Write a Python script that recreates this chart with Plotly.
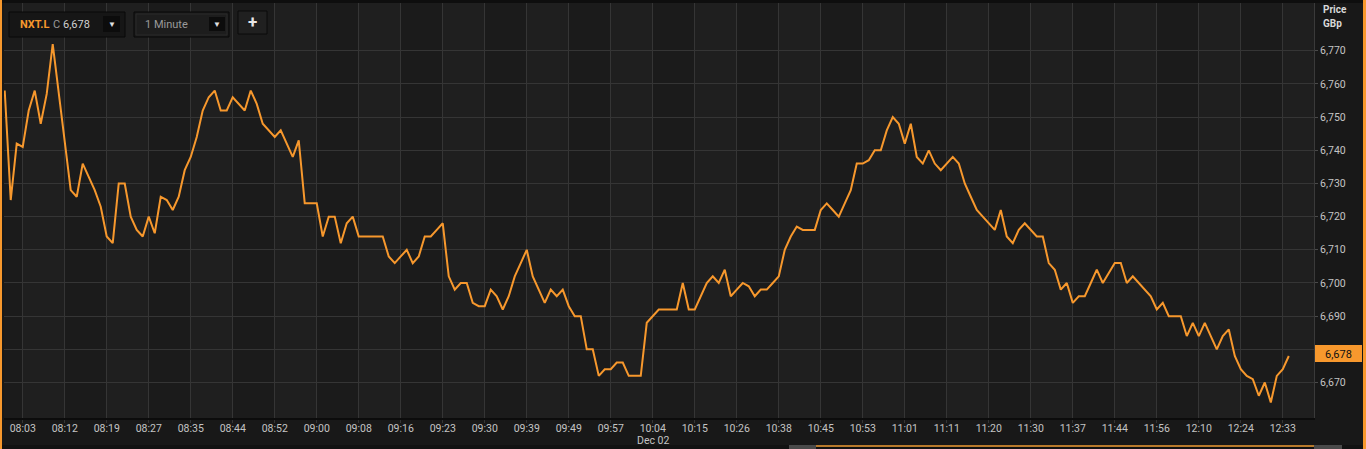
import plotly.graph_objects as go

# ---------------- data ----------------
tick_labels = ["08:03", "08:12", "08:19", "08:27", "08:35", "08:44", "08:52", "09:00",
               "09:08", "09:16", "09:23", "09:30", "09:39", "09:49", "09:57", "10:04",
               "10:15", "10:26", "10:38", "10:45", "10:53", "11:01", "11:11", "11:20",
               "11:30", "11:37", "11:44", "11:56", "12:10", "12:24", "12:33"]
date_label = "Dec 02"
date_label_at = "10:04"

prices = [
    6758, 6725, 6742, 6741, 6752, 6758, 6748, 6757, 6772, 6757,
    6742, 6728, 6726, 6736, 6732, 6728, 6723, 6714, 6712, 6730,
    6730, 6720, 6716, 6714, 6720, 6715, 6726, 6725, 6722, 6726,
    6734, 6738, 6744, 6752, 6756, 6758, 6752, 6752, 6756, 6754,
    6752, 6758, 6754, 6748, 6746, 6744, 6746, 6742, 6738, 6743,
    6724, 6724, 6724, 6714, 6720, 6720, 6712, 6718, 6720, 6714,
    6714, 6714, 6714, 6714, 6708, 6706, 6708, 6710, 6706, 6708,
    6714, 6714, 6716, 6718, 6702, 6698, 6700, 6700, 6694, 6693,
    6693, 6698, 6696, 6692, 6696, 6702, 6706, 6710, 6702, 6698,
    6694, 6698, 6696, 6698, 6693, 6690, 6690, 6680, 6680, 6672,
    6674, 6674, 6676, 6676, 6672, 6672, 6672, 6688, 6690, 6692,
    6692, 6692, 6692, 6700, 6692, 6692, 6696, 6700, 6702, 6700,
    6704, 6696, 6698, 6700, 6699, 6696, 6698, 6698, 6700, 6702,
    6710, 6714, 6717, 6716, 6716, 6716, 6722, 6724, 6722, 6720,
    6724, 6728, 6736, 6736, 6737, 6740, 6740, 6746, 6750, 6748,
    6742, 6748, 6738, 6736, 6740, 6736, 6734, 6736, 6738, 6736,
    6730, 6726, 6722, 6720, 6718, 6716, 6722, 6714, 6712, 6716,
    6718, 6716, 6714, 6714, 6706, 6704, 6698, 6700, 6694, 6696,
    6696, 6700, 6704, 6700, 6703, 6706, 6706, 6700, 6702, 6700,
    6698, 6696, 6692, 6694, 6690, 6690, 6690, 6684, 6688, 6684,
    6688, 6684, 6680, 6684, 6686, 6678, 6674, 6672, 6671, 6666,
    6670, 6664, 6672, 6674, 6678,
]
price_ticks = [6670, 6680, 6690, 6700, 6710, 6720, 6730, 6740, 6750, 6760, 6770]
symbol = "NXT.L"
last_price = prices[-1]
interval_label = "1 Minute"

# ---------------- geometry helpers (pixels -> paper) ----------------
W, H = 1366, 449
L, R, T, B = 4, 1314, 3, 418
def px(x):
    return (x - L) / (R - L)
def py(y):
    return (B - y) / (B - T)

ORANGE = "#f7982d"
idx = list(range(len(prices)))
tick_pos = [3 + 7 * k for k in range(len(tick_labels))]

fig = go.Figure()
fig.add_trace(go.Scatter(x=idx, y=prices, mode="lines",
                         line=dict(color=ORANGE, width=2), hoverinfo="skip",
                         showlegend=False))

shapes = []
# alternating column bands
for k in range(-1, len(tick_pos)):
    x0 = tick_pos[k] if k >= 0 else -5
    x1 = tick_pos[k + 1] if k + 1 < len(tick_pos) else 230
    shapes.append(dict(type="rect", xref="x", yref="paper", x0=x0, x1=x1, y0=0, y1=1,
                       fillcolor="#1f1f1f" if k % 2 == 0 else "#1b1b1b",
                       line=dict(width=0), layer="below"))

def rect(x0, y0, x1, y1, fill, line=None, lw=0, layer="above"):
    shapes.append(dict(type="rect", xref="paper", yref="paper",
                       x0=px(x0), x1=px(x1), y0=py(y1), y1=py(y0),
                       fillcolor=fill, line=dict(color=line or fill, width=lw),
                       layer=layer))

# top dark band / bottom navigator / borders
rect(0, 0, W, 3, "#0e0e0e")
rect(0, 445, W, H, "#121212", layer="below")
rect(789, 445, 816, H, "#4a4a4a")
rect(816, 445, 1314, 447, "#b87a2c")
rect(1314, 445, 1342, H, "#4a4a4a")
rect(0, 0, 2, H, ORANGE)
rect(1363, 0, W, H, ORANGE)

# toolbar
rect(9, 12, 125, 37, "#161616", "#080808", 1)
rect(103, 16, 120, 32, "#0c0c0c")
rect(134, 12, 229, 37, "#1a1a1a", "#080808", 1)
rect(136, 14, 227, 35, "#1d1d1d", "#2a2a2a", 1)
rect(209, 17, 225, 31, "#0c0c0c")
rect(238, 11, 267, 34, "#202020", "#0a0a0a", 1)

# last price label
rect(1315, 345, 1362, 362, ORANGE)

annotations = []
def text(x, y, s, color, size=11, bold=False, anchor="left", xref="paper"):
    annotations.append(dict(xref=xref, yref="paper", x=px(x) if xref == "paper" else x, y=py(y),
                            text=("<b>%s</b>" % s) if bold else s,
                            showarrow=False, xanchor=anchor, yanchor="middle",
                            font=dict(color=color, size=size, family="Roboto")))

text(18, 24, symbol, ORANGE, 11, True)
text(51, 24, "C", "#9a9a9a", 11)
text(61, 24, "{:,}".format(last_price), "#d0d0d0", 11)
text(111.5, 24, "▼", "#e0e0e0", 8, anchor="center")
text(143, 24, interval_label, "#9a9a9a", 11)
text(217, 24, "▼", "#e0e0e0", 8, anchor="center")
text(252.5, 22, "+", "#e6e6e6", 17, True, anchor="center")
text(1321, 9, "Price", "#d8d8d8", 10, True)
text(1321, 23, "GBp", "#d8d8d8", 10, True)
text(1338.5, 354, "{:,}".format(last_price), "#111111", 11, False, anchor="center")
text(tick_pos[tick_labels.index(date_label_at)], 440.5, date_label, "#c4c4c4", 10.5,
     anchor="center", xref="x")

fig.update_layout(
    width=W, height=H, autosize=False,
    margin=dict(l=L, r=W - R, t=T, b=H - B, pad=0),
    paper_bgcolor="#181818", plot_bgcolor="#1d1d1d",
    shapes=shapes, annotations=annotations,
    xaxis=dict(range=[-0.12, 218.2], tickmode="array", tickvals=tick_pos, ticktext=tick_labels,
               showgrid=True, gridcolor="#353535", gridwidth=1, zeroline=False,
               ticks="outside", ticklen=3, tickcolor="#353535", ticklabelstandoff=-4,
               showline=True, linecolor="#0c0c0c", linewidth=2,
               tickfont=dict(color="#c4c4c4", size=10.5, family="Roboto")),
    yaxis=dict(range=[6659.3, 6784.4], side="right", tickmode="array", tickvals=price_ticks,
               ticktext=["{:,}".format(v) for v in price_ticks],
               showgrid=True, gridcolor="#353535", gridwidth=1, zeroline=False,
               ticks="outside", ticklen=3, tickcolor="#4a4a4a",
               showline=True, linecolor="#3a3a3a", linewidth=1,
               tickfont=dict(color="#c4c4c4", size=10.5, family="Roboto")),
)

fig.write_html("out.html", config={"displayModeBar": False},
               post_script="document.body.style.margin='0';document.body.style.overflow='hidden';")
